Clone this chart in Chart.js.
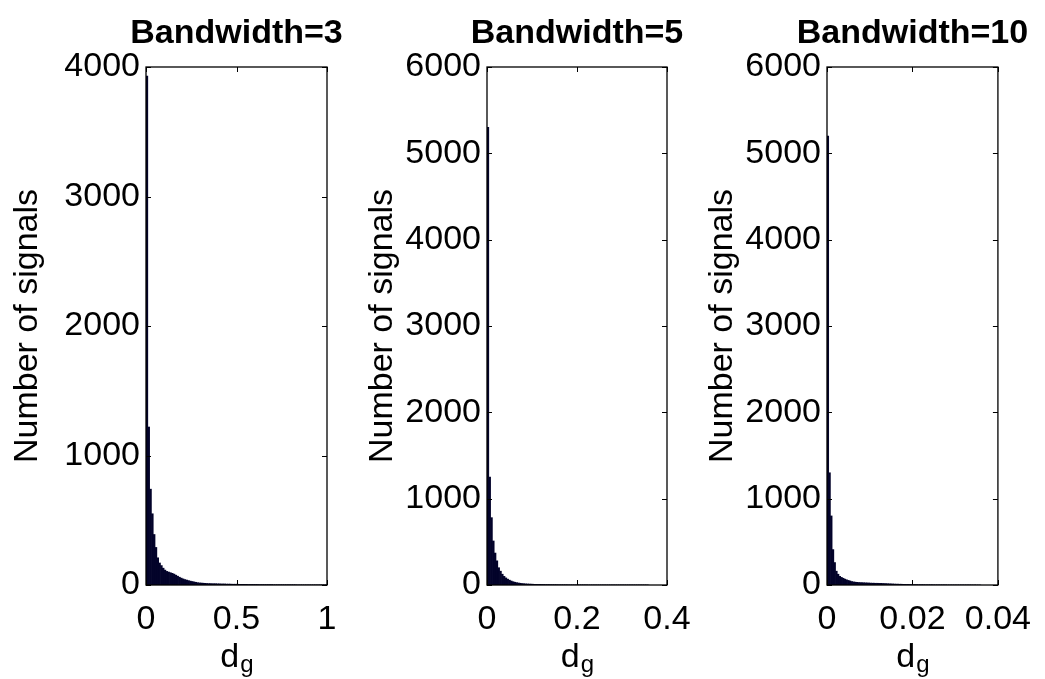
<!DOCTYPE html>
<html>
<head>
<meta charset="utf-8">
<script src="https://cdn.jsdelivr.net/npm/chart.js@4.4.1/dist/chart.umd.min.js"></script>
<style>
  html, body { margin: 0; padding: 0; background: #fff; }
  #wrap { position: relative; width: 1045px; height: 679px; overflow: hidden; }
  #wrap canvas { position: absolute; left: 0; top: 0; }
</style>
</head>
<body>
<div id="wrap">
  <canvas id="c1" width="1045" height="679"></canvas>
  <canvas id="c2" width="1045" height="679"></canvas>
  <canvas id="c3" width="1045" height="679"></canvas>
</div>
<script>
// Panel titles and shared axis label text
const titles = ['Bandwidth=3', 'Bandwidth=5', 'Bandwidth=10'];
const yLabel = 'Number of signals';
const xLabelMain = 'd';
const xLabelSub = 'g';

// Histogram bin widths (in d_g units) and x-axis limits
const binWidths = [0.01, 0.004, 0.0004];
const xMaxes = [1, 0.4, 0.04];

// Tick values and labels
const xTicks1 = [0, 0.5, 1];
const xTicks2 = [0, 0.2, 0.4];
const xTicks3 = [0, 0.02, 0.04];
const xTickLabels1 = ['0', '0.5', '1'];
const xTickLabels2 = ['0', '0.2', '0.4'];
const xTickLabels3 = ['0', '0.02', '0.04'];
const yTicks1 = [0, 1000, 2000, 3000, 4000];
const yTicks2 = [0, 1000, 2000, 3000, 4000, 5000, 6000];
const yTicks3 = [0, 1000, 2000, 3000, 4000, 5000, 6000];

// Bin counts, bandwidth = 3
const counts1 = [3930, 1220, 740, 550, 390, 290, 210, 170, 150, 130,
  115, 105, 100, 95, 90, 84, 76, 68, 60, 53,
  47, 42, 38, 34, 30, 27, 24, 21, 18, 16,
  15, 14, 13, 12, 11, 11, 10, 10, 10, 9,
  9, 8, 8, 8, 7, 7, 7, 6, 6, 6,
  6, 5, 5, 5, 5, 5, 4, 4, 4, 4,
  4, 4, 3, 3, 3, 3, 3, 3, 3, 3,
  2, 2, 2, 2, 2, 2, 2, 2, 2, 2,
  2, 2, 2, 1, 1, 1, 1, 1, 1, 1,
  1, 1, 1, 1, 1, 1, 1, 1, 1, 1];

// Bin counts, bandwidth = 5
const counts2 = [5300, 1250, 780, 510, 370, 280, 200, 160, 125, 100,
  82, 68, 56, 46, 38, 32, 27, 23, 20, 17,
  15, 13, 12, 11, 10, 9, 8, 8, 7, 7,
  6, 6, 5, 5, 5, 4, 4, 4, 4, 3,
  3, 3, 3, 3, 3, 2, 2, 2, 2, 2,
  2, 2, 2, 2, 2, 2, 1, 1, 1, 1,
  1, 1, 1, 1, 1, 1, 1, 1, 1, 1,
  1, 1, 1, 1, 1, 1, 1, 1, 1, 1,
  1, 1, 1, 1, 1, 1, 1, 1, 1, 0];

// Bin counts, bandwidth = 10
const counts3 = [5200, 1300, 800, 410, 260, 160, 125, 100, 88, 78,
  68, 60, 53, 47, 40, 36, 33, 31, 29, 28,
  27, 26, 25, 24, 23, 22, 21, 21, 20, 20,
  19, 19, 18, 17, 16, 15, 14, 13, 12, 11,
  10, 10, 9, 9, 8, 8, 7, 7, 6, 6,
  5, 5, 5, 4, 4, 4, 4, 3, 3, 3,
  3, 3, 2, 2, 2, 2, 2, 2, 2, 2,
  1, 1, 1, 1, 1, 1, 1, 1, 1, 1,
  1, 1, 1, 1, 1, 0, 1, 0, 0, 0];

const FONT = "'Liberation Sans', Arial, Helvetica, sans-serif";
const BAR_COLOR = '#03032a';

// Plot-box edges for each panel (left, right) and where the y label sits
const boxes = [
  { left: 146, right: 327, yLabelGap: 118 },
  { left: 487, right: 667, yLabelGap: 104 },
  { left: 827, right: 1008, yLabelGap: 104 }
];
const BOX_TOP = 67;
const BOX_BOTTOM = 585;
const Y_AXIS_W = 125;
const X_AXIS_H = 70;

// MATLAB-style framing: full box, inward ticks on all four sides,
// bold title above, and the subscripted x label below
const framePlugin = {
  id: 'frame',
  afterDraw(chart, args, opts) {
    const { ctx, chartArea: a, scales } = chart;
    ctx.save();
    ctx.strokeStyle = '#000';
    ctx.lineWidth = 1.3;
    ctx.strokeRect(a.left, a.top, a.right - a.left, a.bottom - a.top);
    const tl = 5;
    ctx.beginPath();
    scales.x.ticks.forEach(t => {
      const px = Math.round(scales.x.getPixelForValue(t.value)) + 0.5;
      ctx.moveTo(px, a.bottom); ctx.lineTo(px, a.bottom - tl);
      ctx.moveTo(px, a.top); ctx.lineTo(px, a.top + tl);
    });
    scales.y.ticks.forEach(t => {
      const py = Math.round(scales.y.getPixelForValue(t.value)) + 0.5;
      ctx.moveTo(a.left, py); ctx.lineTo(a.left + tl, py);
      ctx.moveTo(a.right, py); ctx.lineTo(a.right - tl, py);
    });
    ctx.lineWidth = 1;
    ctx.stroke();

    const cx = (a.left + a.right) / 2;
    ctx.fillStyle = '#000';
    ctx.textAlign = 'center';
    ctx.textBaseline = 'alphabetic';
    ctx.font = 'bold 34px ' + FONT;
    ctx.fillText(opts.title, cx, 43);

    // x label: "d" with subscript "g"
    ctx.font = '34px ' + FONT;
    const wd = ctx.measureText(xLabelMain).width;
    ctx.font = '24px ' + FONT;
    const wg = ctx.measureText(xLabelSub).width;
    const x0 = cx - (wd + wg) / 2;
    ctx.textAlign = 'left';
    ctx.font = '34px ' + FONT;
    ctx.fillText(xLabelMain, x0, 667);
    ctx.font = '24px ' + FONT;
    ctx.fillText(xLabelSub, x0 + wd + 1, 672);

    // y label, rotated
    ctx.save();
    ctx.translate(a.left - opts.yLabelGap, (a.top + a.bottom) / 2);
    ctx.rotate(-Math.PI / 2);
    ctx.textAlign = 'center';
    ctx.textBaseline = 'middle';
    ctx.font = '34px ' + FONT;
    ctx.fillText(yLabel, 0, 0);
    ctx.restore();
    ctx.restore();
  }
};

function makePanel(canvasId, idx, counts, xTicks, xTickLabels, yTicks) {
  const bw = binWidths[idx];
  const box = boxes[idx];
  const data = counts.map((c, i) => ({ x: (i + 0.5) * bw, y: c }));
  return new Chart(document.getElementById(canvasId), {
    type: 'bar',
    data: {
      datasets: [{
        data: data,
        backgroundColor: BAR_COLOR,
        borderWidth: 0,
        barPercentage: 1,
        categoryPercentage: 1
      }]
    },
    plugins: [framePlugin],
    options: {
      responsive: false,
      animation: false,
      events: [],
      layout: {
        padding: {
          left: box.left - Y_AXIS_W,
          right: 1045 - box.right,
          top: BOX_TOP,
          bottom: 679 - BOX_BOTTOM - X_AXIS_H
        }
      },
      plugins: {
        legend: { display: false },
        tooltip: { enabled: false },
        title: { display: false },
        frame: { title: titles[idx], yLabelGap: box.yLabelGap }
      },
      scales: {
        x: {
          type: 'linear',
          min: 0,
          max: xMaxes[idx],
          offset: false,
          grid: { display: false, drawTicks: false },
          border: { display: false },
          afterBuildTicks: s => { s.ticks = xTicks.map(v => ({ value: v })); },
          afterFit: s => { s.height = X_AXIS_H; },
          ticks: {
            autoSkip: false,
            maxRotation: 0,
            padding: 14,
            color: '#000',
            font: { family: FONT, size: 34 },
            callback: (v) => {
              const k = xTicks.indexOf(v);
              return k >= 0 ? xTickLabels[k] : '';
            }
          }
        },
        y: {
          type: 'linear',
          min: yTicks[0],
          max: yTicks[yTicks.length - 1],
          grid: { display: false, drawTicks: false },
          border: { display: false },
          afterBuildTicks: s => { s.ticks = yTicks.map(v => ({ value: v })); },
          afterFit: s => { s.width = Y_AXIS_W; },
          ticks: {
            autoSkip: false,
            padding: 6,
            color: '#000',
            font: { family: FONT, size: 34 },
            callback: (v) => String(v)
          }
        }
      }
    }
  });
}

makePanel('c1', 0, counts1, xTicks1, xTickLabels1, yTicks1);
makePanel('c2', 1, counts2, xTicks2, xTickLabels2, yTicks2);
makePanel('c3', 2, counts3, xTicks3, xTickLabels3, yTicks3);
</script>
</body>
</html>
